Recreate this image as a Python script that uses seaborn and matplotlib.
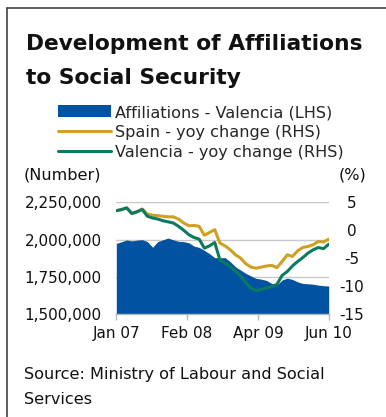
import numpy as np
import pandas as pd
import matplotlib
matplotlib.use("Agg")
import matplotlib.pyplot as plt
import seaborn as sns
from matplotlib.lines import Line2D
from matplotlib.patches import Patch

# ---------------- data ----------------
months = pd.date_range("2007-01-01", periods=42, freq="MS")
affiliations = [1974000, 1985000, 1997000, 1991000, 1996000, 1999000, 1986000, 1948000,
                1986000, 1998000, 2010000, 1998000, 1988000, 1986000, 1978000, 1956000,
                1947000, 1927000, 1905000, 1878000, 1878000, 1878000, 1851000, 1817000,
                1795000, 1773000, 1755000, 1739000, 1734000, 1725000, 1705000, 1694000,
                1728000, 1741000, 1732000, 1716000, 1705000, 1703000, 1700000, 1694000,
                1690000, 1688000]
spain_yoy = [3.5, 3.7, 4.0, 3.0, 3.3, 3.8, 2.9, 2.7, 2.6, 2.5, 2.4, 2.4, 2.0, 1.3,
             0.8, 0.85, 0.7, -0.9, -0.4, 0.1, -2.3, -2.8, -3.5, -4.4, -5.0, -6.0,
             -6.6, -6.8, -6.6, -6.4, -6.3, -6.7, -5.6, -4.4, -4.7, -3.7, -3.1, -2.9,
             -2.6, -2.0, -2.1, -1.6]
valencia_yoy = [3.5, 3.7, 4.0, 3.0, 3.3, 3.7, 2.5, 2.2, 2.0, 1.7, 1.5, 1.3, 0.7, 0.0,
                -0.8, -1.3, -1.6, -3.2, -2.8, -2.2, -5.3, -5.9, -6.5, -7.3, -8.2, -9.4,
                -10.4, -10.8, -10.6, -10.3, -10.1, -9.7, -8.1, -7.4, -6.4, -5.6, -4.9,
                -4.1, -3.5, -3.1, -3.3, -2.5]
x_tick_labels = ["Jan 07", "Feb 08", "Apr 09", "Jun 10"]
left_ticks = [1500000, 1750000, 2000000, 2250000]
right_ticks = [-15, -10, -5, 0, 5]
series_labels = ["Affiliations - Valencia (LHS)", "Spain - yoy change (RHS)",
                 "Valencia - yoy change (RHS)"]
title_lines = ["Development of Affiliations", "to Social Security"]
source_lines = ["Source: Ministry of Labour and Social", "Services"]

# ---------------- style ----------------
BLUE = "#0152a0"
GOLD = "#d0a021"
GREEN = "#0b7a60"
GRID = "#c8c8c8"
INK = "#111111"

sns.set_theme(style="white")
plt.rcParams["font.family"] = ["DejaVu Sans"]
FS = 11
FS_TXT = 11.6

W, H = 386, 417
fig = plt.figure(figsize=(W / 100, H / 100), dpi=100)

def fx(px):
    return px / W

def fy(py):
    return 1 - py / H

ax_left, ax_right, ax_top, ax_bot = 116.3, 328.7, 202.3, 314.0
ax = fig.add_axes([fx(ax_left), fy(ax_bot), fx(ax_right) - fx(ax_left), fy(ax_top) - fy(ax_bot)])

df = pd.DataFrame({
    "idx": np.arange(len(months)),
    "month": months,
    "affiliations": affiliations,
    "spain": spain_yoy,
    "valencia": valencia_yoy,
})

ax.fill_between(df["idx"], df["affiliations"], 0, color=BLUE, lw=0, zorder=2)
ax.set_ylim(left_ticks[0], left_ticks[-1])
ax.set_xlim(df["idx"].iloc[0], df["idx"].iloc[-1])
ax.set_yticks(left_ticks)
ax.set_yticklabels([f"{v:,}" for v in left_ticks], fontsize=FS)
ax.yaxis.grid(True, color=GRID, lw=1.0)
ax.set_axisbelow(True)
ax.set_xticks(np.linspace(df["idx"].iloc[0], df["idx"].iloc[-1], len(x_tick_labels)))
ax.set_xticklabels(x_tick_labels, fontsize=FS)
ax.tick_params(axis="x", bottom=True, length=4.5, width=1, color="#b8b8b8", pad=4, labelcolor=INK)
ax.tick_params(axis="y", length=0, pad=10.5, labelcolor=INK)
for s in ["top", "left", "right"]:
    ax.spines[s].set_visible(False)
ax.spines["bottom"].set_color("#b8b8b8")
ax.spines["bottom"].set_linewidth(1)
ax.set_xlabel("")
ax.set_ylabel("")

ax2 = ax.twinx()
sns.lineplot(data=df, x="idx", y="spain", ax=ax2, color=GOLD, lw=2.2, zorder=3)
sns.lineplot(data=df, x="idx", y="valencia", ax=ax2, color=GREEN, lw=2.2, zorder=4)
ax2.set_ylim(right_ticks[0], right_ticks[-1])
ax2.set_yticks(right_ticks)
ax2.set_yticklabels([str(v) for v in right_ticks], fontsize=FS)
ax2.tick_params(axis="y", length=0, pad=16.8, labelcolor=INK)
for lab in ax2.get_yticklabels():
    lab.set_ha("center")
for s in ax2.spines.values():
    s.set_visible(False)
ax2.set_xlabel("")
ax2.set_ylabel("")
ax2.set_xlim(df["idx"].iloc[0], df["idx"].iloc[-1])

# axis unit labels
fig.text(fx(24), fy(180), "(Number)", fontsize=FS_TXT, va="baseline", ha="left", color=INK)
fig.text(fx(352), fy(180), "(%)", fontsize=FS_TXT, va="baseline", ha="center", color=INK)

# title
fig.text(fx(26), fy(49.5), title_lines[0], fontsize=15.7, fontweight="bold", va="baseline", ha="left", color=INK)
fig.text(fx(26), fy(83.5), title_lines[1], fontsize=15.7, fontweight="bold", va="baseline", ha="left", color=INK)

# legend
handles = [Patch(facecolor=BLUE, edgecolor="none"),
           Line2D([0], [0], color=GOLD, lw=2.2),
           Line2D([0], [0], color=GREEN, lw=2.2)]
fig.legend(handles, series_labels, loc="upper left", bbox_to_anchor=(fx(58), fy(105)),
           frameon=False, fontsize=FS_TXT, borderpad=0, borderaxespad=0, handlelength=3.3,
           handleheight=0.78, handletextpad=0.25, labelspacing=0.31)

# source
fig.text(fx(24), fy(378.5), source_lines[0], fontsize=FS_TXT, va="baseline", ha="left", color=INK)
fig.text(fx(24), fy(404.5), source_lines[1], fontsize=FS_TXT, va="baseline", ha="left", color=INK)

# frame lines (top and left)
fig.add_artist(Line2D([fx(7), 1.0], [fy(8), fy(8)], color="#333333", lw=1.1, transform=fig.transFigure))
fig.add_artist(Line2D([fx(7), fx(7)], [fy(8), 0.0], color="#333333", lw=1.1, transform=fig.transFigure))

fig.savefig("out.png", dpi=100)
